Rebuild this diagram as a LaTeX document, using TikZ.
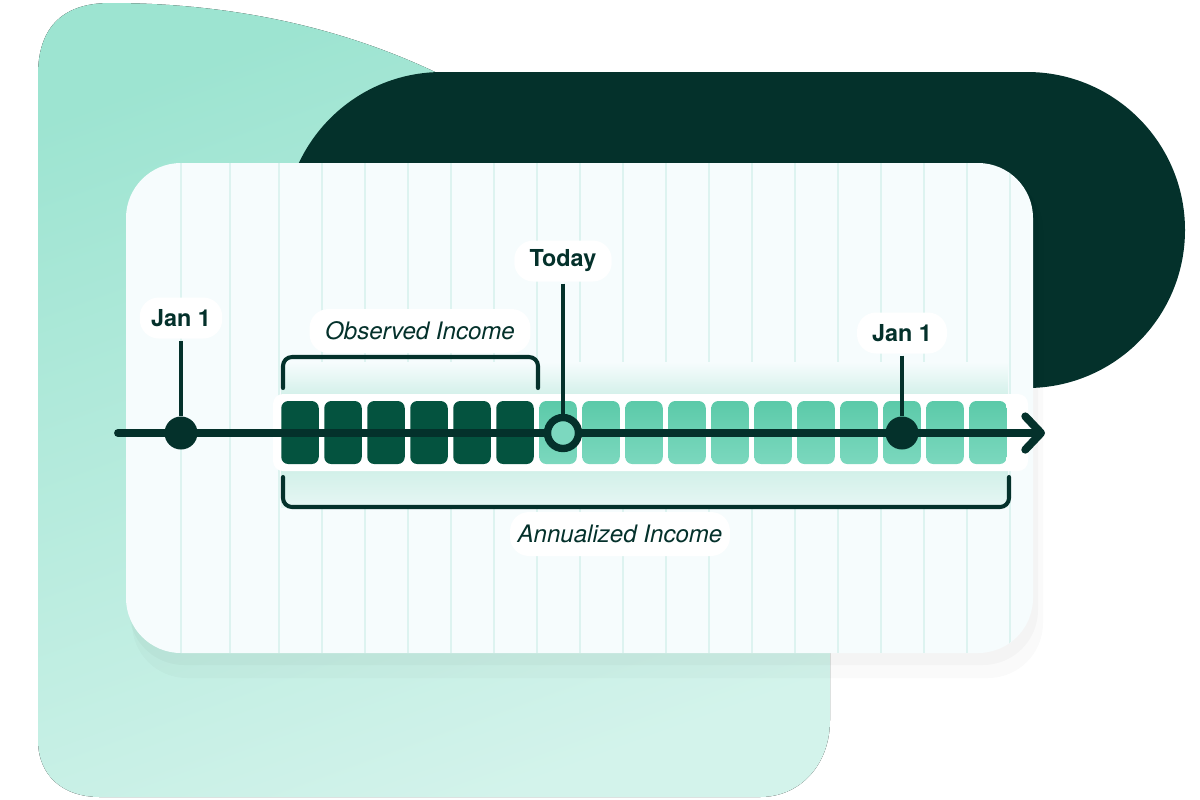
\documentclass[tikz,border=0pt]{standalone}
\usepackage{fontspec}
\setmainfont{TeX Gyre Heros}
\usepackage{tikz}
\usetikzlibrary{calc,shapes,arrows.meta}

\definecolor{inkgreen}{HTML}{04312B}
\definecolor{deepteal}{HTML}{04533F}
\definecolor{minttop}{HTML}{5CCAA9}
\definecolor{mintbot}{HTML}{7BD8BE}
\definecolor{blobtop}{HTML}{9DE4D1}
\definecolor{blobbot}{HTML}{D3F3EB}
\definecolor{cardbg}{HTML}{F6FCFD}
\definecolor{gridcol}{HTML}{DDF3F0}
\definecolor{fadeteal}{HTML}{CFEFE7}
\definecolor{ringfill}{HTML}{7CD8BF}

\begin{document}
\begin{tikzpicture}[x=0.02cm,y=-0.02cm,
    gridline/.style={gridcol,line width=1.1pt},
    obsblock/.style={fill=deepteal,rounded corners=0.14cm,inner sep=0pt,
      minimum width=0.75cm,minimum height=1.26cm},
    annblock/.style={top color=minttop,bottom color=mintbot,rounded corners=0.14cm,
      inner sep=0pt,minimum width=0.75cm,minimum height=1.26cm},
    brace/.style={inkgreen,line width=2.3pt,rounded corners=0.18cm,line cap=round},
    stem/.style={inkgreen,line width=2.3pt,shorten <=1pt},
    dot/.style={circle,fill=inkgreen,inner sep=0pt,minimum size=0.66cm},
    ring/.style={circle,draw=inkgreen,fill=ringfill,line width=4.2pt,inner sep=0pt,minimum size=0.62cm},
    pill/.style={fill=white,rounded corners=0.38cm,inner sep=0pt,text=inkgreen,
      minimum height=0.82cm},
    datelbl/.style={pill,font=\fontsize{13.3}{15}\selectfont\bfseries},
    spanlbl/.style={pill,font=\fontsize{13.7}{16}\selectfont\itshape,minimum height=0.88cm}]
  \useasboundingbox (0,0) rectangle (1200,799);

  %% Backdrop shapes
  \fill[top color=blobtop,bottom color=blobbot,shading angle=20]
    (38,740) -- (38,75) .. controls (38,30) and (60,3) .. (110,3)
    .. controls (260,3) and (400,40) .. (520,120) -- (830,300) -- (830,720)
    .. controls (830,765) and (800,797) .. (760,797) -- (100,797)
    .. controls (62,797) and (38,775) .. (38,740) -- cycle;
  \fill[inkgreen,rounded corners=3.16cm] (284,72) rectangle (1185,388);

  %% Card with its shadow
  \fill[black,opacity=0.02,rounded corners=1.1cm] (132,175) rectangle (1043,678);
  \fill[black,opacity=0.025,rounded corners=1.1cm] (129,168) rectangle (1038,665);
  \fill[cardbg,rounded corners=1.1cm] (126,163) rectangle (1033,653);
  \begin{scope}
    \clip[rounded corners=1.1cm] (126,163) rectangle (1033,653);
    \foreach \gx in {181,230}
      \draw[gridline] (\gx,163) -- (\gx,653);
    \foreach \k in {0,...,17}
      \draw[gridline] ({279+43*\k},163) -- ({279+43*\k},653);
  \end{scope}

  %% Faded band round the months
  \fill[top color=cardbg,bottom color=fadeteal] (281,362) rectangle (1008,400);
  \fill[top color=fadeteal,bottom color=cardbg!60!fadeteal] (281,466) rectangle (1008,507);
  \fill[white,rounded corners=0.2cm] (273,394) rectangle (1028,471);

  %% Month blocks: observed, then annualized
  \foreach \k in {0,...,5}
    \node[obsblock] (BK\k) at ({300+43*\k},432.5) {};
  \foreach \k in {6,...,16}
    \node[annblock] (BK\k) at ({300+43*\k},432.5) {};

  %% Brackets
  \draw[brace] (283,388) -- (283,357) -- (538,357) -- (538,388);
  \draw[brace] (283,477) -- (283,507) -- (1009,507) -- (1009,477);

  %% Time axis
  \coordinate (axL) at (118,433);
  \coordinate (axR) at (1045,433);
  \draw[inkgreen,line width=4.5pt,line cap=round,
    -{Straight Barb[length=9pt,width=19pt,round]}] (axL) -- (axR);

  %% Markers and labels
  \node[dot]  (jA) at (181,433) {};
  \node[ring] (td) at (563,433) {};
  \node[dot]  (jB) at (902,433) {};

  \node[datelbl,minimum width=1.65cm] (lJanA) at (181,318) {Jan 1};
  \node[datelbl,minimum width=1.95cm] (lToday) at (563,261) {Today};
  \node[datelbl,minimum width=1.8cm]  (lJanB) at (902,333) {Jan 1};
  \node[spanlbl,minimum width=4.42cm] (lObs) at (420,331) {Observed Income};
  \node[spanlbl,minimum width=4.4cm]  (lAnn) at (620,534) {Annualized Income};

  \draw[stem] (lJanA) -- (jA);
  \draw[stem] (lToday) -- (td);
  \draw[stem] (lJanB) -- (jB);
\end{tikzpicture}
\end{document}
